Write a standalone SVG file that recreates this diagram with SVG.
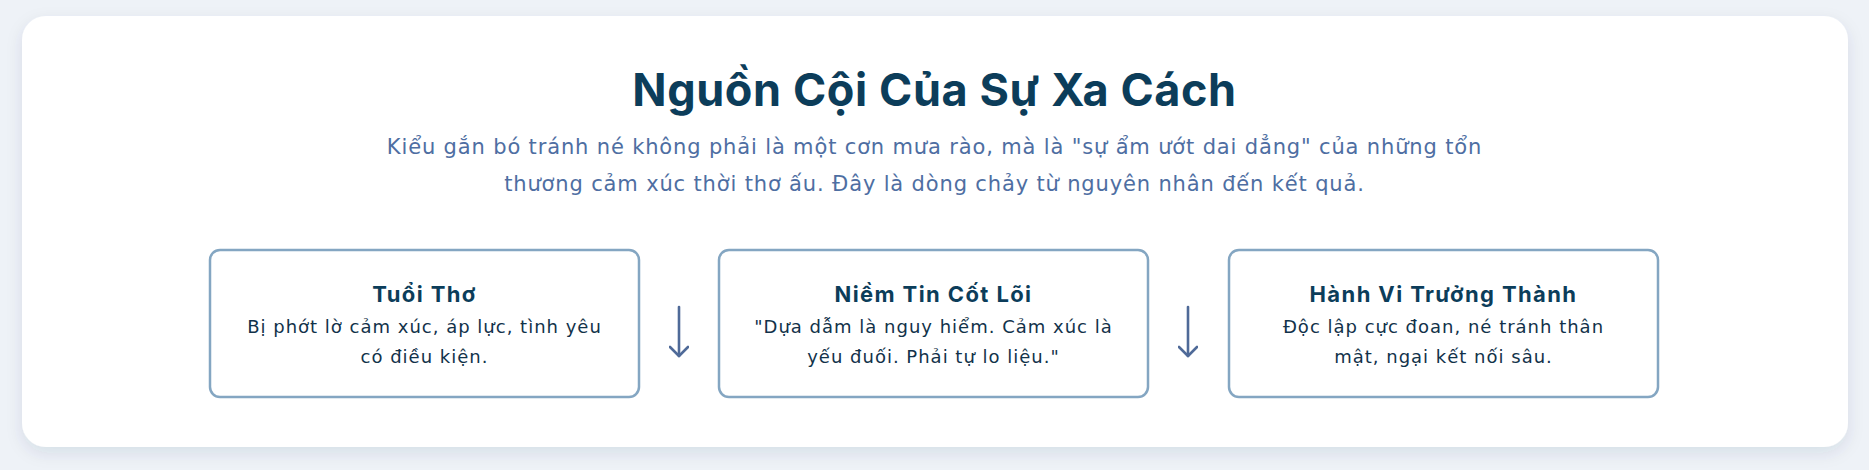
<svg xmlns="http://www.w3.org/2000/svg" width="1869" height="470" viewBox="0 0 1869 470">
  <defs>
    <filter id="shadow" x="-5%" y="-10%" width="110%" height="125%">
      <feDropShadow dx="0" dy="6" stdDeviation="8" flood-color="#1e3a5f" flood-opacity="0.10"/>
    </filter>
    <marker id="arrowhead" viewBox="0 0 20 20" refX="18" refY="10" markerWidth="20" markerHeight="20" markerUnits="userSpaceOnUse" orient="auto">
      <path d="M9 1 L18 10 L9 19" fill="none" stroke="#4f6a98" stroke-width="2.6" stroke-linecap="round" stroke-linejoin="round"/>
    </marker>
  </defs>
  <style>
    .title { font-family: Inter, "Noto Sans", sans-serif; font-weight: 700; font-size: 45px; letter-spacing: 0.6px; fill: #0c3d5a; text-anchor: middle; }
    .sub { font-family: "DejaVu Sans", sans-serif; font-size: 21px; letter-spacing: 0.85px; fill: #4e6ea2; text-anchor: middle; }
    .box { fill: #ffffff; stroke: #84a6c2; stroke-width: 2.5; }
    .bt { font-family: Inter, "Noto Sans", sans-serif; font-weight: 700; font-size: 22px; letter-spacing: 1.4px; fill: #0c3d5a; text-anchor: middle; }
    .bd { font-family: "DejaVu Sans", sans-serif; font-size: 18px; letter-spacing: 1px; fill: #12324a; text-anchor: middle; }
    .conn { stroke: #4f6a98; stroke-width: 2.6; fill: none; stroke-linecap: round; }
  </style>
  <rect x="0" y="0" width="1869" height="470" fill="#eef2f7"/>
  <g id="card">
    <rect x="22" y="16" width="1826" height="431" rx="24" fill="#ffffff" filter="url(#shadow)"/>
  </g>
  <g id="header">
    <text class="title" x="934.5" y="105.5">Nguồn Cội Của Sự Xa Cách</text>
    <text class="sub" x="934.5" y="153.5">Kiểu gắn bó tránh né không phải là một cơn mưa rào, mà là "sự ẩm ướt dai dẳng" của những tổn</text>
    <text class="sub" x="934.5" y="191">thương cảm xúc thời thơ ấu. Đây là dòng chảy từ nguyên nhân đến kết quả.</text>
  </g>
  <g id="node-tuoi-tho">
    <rect class="box" x="210" y="250" width="429" height="147" rx="10"/>
    <text class="bt" x="424.5" y="302">Tuổi Thơ</text>
    <text class="bd" x="424.5" y="332.5">Bị phớt lờ cảm xúc, áp lực, tình yêu</text>
    <text class="bd" x="424.5" y="362.5">có điều kiện.</text>
  </g>
  <g id="node-niem-tin">
    <rect class="box" x="719" y="250" width="429" height="147" rx="10"/>
    <text class="bt" x="933.5" y="302">Niềm Tin Cốt Lõi</text>
    <text class="bd" x="933.5" y="332.5">"Dựa dẫm là nguy hiểm. Cảm xúc là</text>
    <text class="bd" x="933.5" y="362.5">yếu đuối. Phải tự lo liệu."</text>
  </g>
  <g id="node-hanh-vi">
    <rect class="box" x="1229" y="250" width="429" height="147" rx="10"/>
    <text class="bt" x="1443.5" y="302">Hành Vi Trưởng Thành</text>
    <text class="bd" x="1443.5" y="332.5">Độc lập cực đoan, né tránh thân</text>
    <text class="bd" x="1443.5" y="362.5">mật, ngại kết nối sâu.</text>
  </g>
  <g id="connectors">
    <line class="conn" x1="679" y1="307" x2="679" y2="356" marker-end="url(#arrowhead)"/>
    <line class="conn" x1="1188" y1="307" x2="1188" y2="356" marker-end="url(#arrowhead)"/>
  </g>
</svg>
